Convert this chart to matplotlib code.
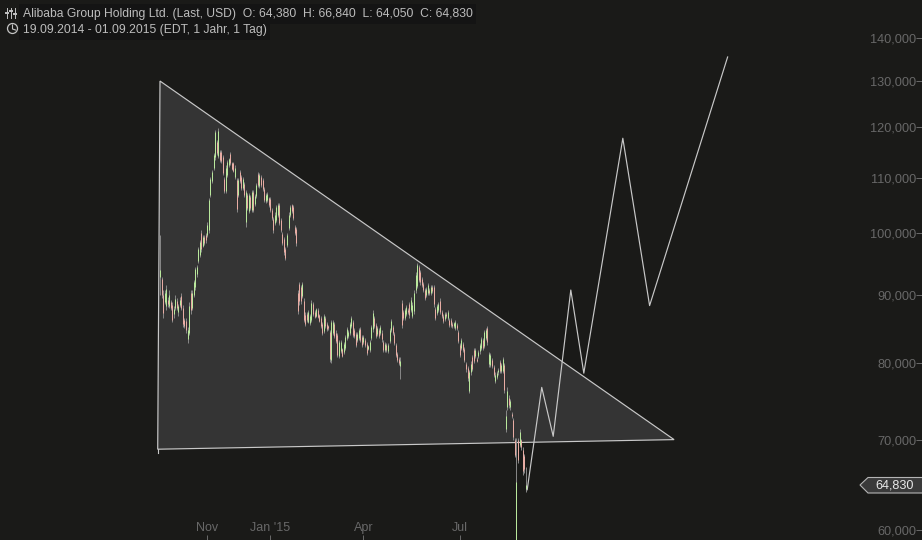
# -*- coding:utf-8 -*-
import numpy as np
from matplotlib import pyplot as plt
from matplotlib.patches import Circle, Polygon
from matplotlib.transforms import Affine2D

# price data in thousand, one entry per trading day
highs = [99.7, 92.8, 90.7, 90.7, 91.5, 89.6, 90.7, 89.1, 88.8, 88.2,
         89.9, 89.4, 88.6, 89.6, 90.2, 88.4, 86.5, 86.4, 85.1, 88.8,
         90.7, 90.7, 92.3, 94.4, 94.7, 97.7, 98.9, 100.6, 99.7, 99.7,
         100.1, 101.9, 106.3, 110.2, 111.5, 114.8, 119.4, 117.4, 119.8, 115.4,
         115.4, 114.4, 110.2, 112.5, 113.5, 113.9, 115.0, 113.1, 113.1, 112.4,
         110.0, 110.0, 111.5, 110.6, 110.2, 109.2, 107.8, 107.2, 107.2, 106.9,
         107.8, 107.8, 107.0, 109.1, 111.1, 110.9, 110.6, 110.0, 108.3, 107.2,
         107.4, 106.5, 106.5, 104.5, 102.9, 103.7, 105.0, 105.4, 105.4, 102.7,
         100.2, 99.4, 97.7, 100.1, 103.7, 105.0, 105.2, 105.0, 101.4, 101.1,
         90.7, 92.0, 91.5, 92.0, 89.4, 87.3, 87.3, 87.6, 87.1, 89.1,
         88.8, 87.6, 88.0, 87.9, 87.1, 86.8, 85.8, 87.1, 86.8, 85.9,
         85.4, 84.7, 86.1, 86.1, 85.8, 84.6, 84.2, 83.2, 83.2, 82.1,
         83.0, 83.9, 85.1, 84.7, 85.9, 86.8, 86.1, 85.0, 84.4, 84.4,
         85.0, 85.1, 83.9, 84.0, 83.5, 82.9, 82.5, 83.2, 85.4, 87.6,
         86.8, 85.7, 85.2, 85.0, 85.4, 84.6, 83.2, 82.9, 82.8, 82.8,
         85.0, 86.3, 85.4, 84.4, 82.8, 81.5, 80.8, 80.8, 89.1, 87.6,
         87.9, 88.4, 87.9, 88.8, 89.6, 88.8, 90.7, 93.5, 95.1, 94.7,
         93.9, 92.8, 92.0, 91.0, 91.2, 91.8, 91.0, 91.5, 91.5, 91.5,
         88.1, 88.5, 88.8, 89.4, 87.6, 87.1, 87.4, 87.3, 87.6, 86.5,
         86.4, 85.8, 85.9, 86.1, 85.7, 84.7, 82.8, 83.5, 82.9, 82.2,
         80.1, 79.6, 79.0, 80.2, 81.1, 82.1, 82.1, 80.8, 81.8, 82.8,
         83.6, 83.5, 84.7, 85.0, 85.3, 81.5, 81.4, 80.7, 79.7, 78.7,
         78.9, 79.3, 80.4, 80.0, 80.8, 80.0, 73.8, 76.7, 75.7, 75.2,
         73.5, 72.8, 70.3, 70.3, 70.3, 71.4, 70.2, 69.2, 68.4, 66.84]
lows = [89.9, 89.4, 86.5, 88.6, 87.6, 88.1, 87.9, 87.6, 85.8, 86.5,
        87.6, 87.6, 86.8, 88.1, 87.6, 85.1, 85.0, 84.2, 82.8, 83.9,
        87.1, 87.6, 89.6, 90.7, 92.8, 95.0, 96.0, 96.9, 97.7, 98.0,
        98.4, 99.4, 100.1, 106.5, 109.1, 111.5, 113.5, 114.4, 113.9, 113.1,
        112.9, 110.6, 107.2, 107.2, 110.2, 112.1, 112.5, 111.5, 111.1, 109.8,
        103.7, 106.5, 109.1, 107.8, 107.8, 106.4, 101.1, 104.1, 103.6, 104.1,
        103.7, 103.7, 104.8, 106.3, 108.3, 108.1, 108.3, 107.6, 105.6, 105.4,
        105.6, 104.7, 103.7, 102.3, 100.1, 101.4, 101.9, 102.9, 101.4, 100.2,
        98.0, 96.3, 95.5, 97.7, 100.6, 102.9, 103.6, 102.3, 99.7, 97.9,
        87.1, 88.4, 88.6, 89.4, 85.8, 85.3, 85.8, 85.7, 85.4, 85.8,
        86.8, 86.4, 86.6, 86.4, 85.8, 85.0, 83.9, 84.2, 85.0, 84.5,
        84.7, 80.1, 80.0, 83.9, 83.5, 82.8, 80.8, 80.7, 81.4, 80.8,
        81.2, 81.8, 83.2, 83.5, 84.0, 85.0, 83.6, 83.5, 82.2, 82.9,
        83.2, 82.9, 82.2, 82.6, 82.2, 81.1, 81.8, 81.5, 83.2, 84.4,
        85.0, 83.5, 83.8, 83.5, 83.9, 83.0, 81.5, 81.5, 81.5, 81.4,
        82.8, 84.4, 83.9, 82.5, 80.8, 80.1, 79.7, 77.8, 85.0, 86.1,
        86.1, 86.8, 87.1, 86.5, 87.4, 86.4, 87.1, 90.3, 91.0, 91.9,
        91.5, 91.2, 90.4, 89.1, 89.6, 90.0, 89.9, 89.9, 90.2, 88.1,
        86.1, 86.9, 87.3, 87.1, 86.4, 85.7, 86.0, 86.4, 86.1, 85.1,
        85.1, 85.0, 84.9, 84.7, 84.7, 82.8, 80.8, 81.8, 81.5, 80.1,
        78.8, 77.6, 75.9, 78.4, 78.9, 80.0, 80.7, 80.1, 80.7, 81.3,
        81.8, 81.8, 82.1, 83.2, 82.5, 79.4, 79.4, 79.3, 78.1, 77.3,
        77.8, 78.4, 78.6, 78.6, 78.6, 75.9, 71.0, 73.8, 74.0, 73.8,
        72.8, 70.1, 68.0, 57.2, 67.3, 69.2, 68.9, 66.0, 66.2, 64.05]
opens = [92.7, 92.4, 89.9, 88.9, 88.2, 89.2, 88.3, 88.9, 88.4, 87.0,
         88.0, 89.0, 87.3, 88.4, 89.8, 88.0, 86.2, 86.0, 83.3, 84.3,
         90.3, 88.0, 90.0, 91.2, 93.2, 95.3, 96.4, 100.1, 97.9, 99.3,
         99.8, 99.7, 100.5, 106.9, 109.5, 111.9, 114.0, 117.0, 114.3, 115.0,
         115.1, 114.0, 109.8, 107.6, 110.5, 112.5, 114.7, 112.8, 112.8, 110.2,
         109.6, 106.9, 111.1, 110.2, 108.2, 108.8, 102.0, 106.8, 104.0, 106.5,
         104.1, 107.4, 105.2, 106.7, 110.7, 108.5, 110.2, 109.6, 107.9, 105.8,
         105.9, 106.2, 106.1, 104.1, 102.5, 101.8, 102.3, 103.3, 105.0, 102.3,
         99.9, 99.0, 97.3, 98.0, 100.9, 103.2, 105.0, 104.7, 101.1, 100.8,
         90.3, 91.6, 91.1, 89.8, 89.0, 86.9, 87.0, 85.9, 85.7, 86.1,
         88.5, 87.3, 86.8, 87.6, 86.9, 86.5, 85.5, 84.5, 86.5, 85.6,
         85.2, 84.4, 80.4, 84.2, 85.5, 84.3, 83.9, 81.0, 81.7, 81.9,
         81.5, 82.1, 83.5, 83.8, 84.3, 85.3, 85.8, 84.7, 84.1, 83.2,
         83.5, 84.8, 83.6, 82.9, 83.2, 82.6, 82.0, 81.8, 83.5, 84.8,
         86.5, 85.4, 84.1, 84.7, 84.2, 84.3, 82.9, 81.8, 82.5, 81.7,
         83.1, 84.7, 85.1, 84.1, 82.5, 81.2, 80.5, 79.6, 88.7, 87.3,
         86.4, 87.1, 87.7, 88.5, 87.7, 86.8, 87.5, 90.7, 91.4, 94.3,
         93.5, 92.5, 91.7, 90.7, 89.9, 90.3, 90.7, 90.2, 91.2, 91.2,
         87.8, 87.2, 87.6, 89.0, 87.3, 86.8, 86.3, 87.0, 86.4, 86.2,
         86.1, 85.5, 85.2, 85.0, 85.4, 84.4, 82.5, 82.1, 82.6, 81.9,
         79.8, 79.3, 76.2, 78.7, 80.8, 81.8, 81.0, 80.6, 81.0, 81.6,
         82.1, 83.2, 82.4, 83.5, 85.0, 79.8, 79.7, 80.4, 79.4, 77.6,
         78.1, 78.7, 80.1, 78.9, 78.9, 79.7, 71.4, 74.2, 75.3, 74.1,
         73.3, 72.5, 70.0, 57.5, 70.0, 69.5, 70.0, 68.9, 68.1, 64.38]
closes = [93.9, 90.0, 87.2, 90.2, 90.9, 88.5, 89.9, 88.0, 86.2, 87.8,
          89.3, 88.0, 88.2, 89.2, 88.0, 85.6, 85.3, 84.6, 84.6, 88.3,
          87.6, 90.2, 91.9, 94.0, 94.4, 97.3, 98.5, 97.4, 99.3, 98.3,
          98.8, 101.5, 105.9, 109.8, 111.1, 114.4, 119.0, 114.8, 119.3, 113.4,
          113.2, 111.0, 107.6, 112.0, 113.1, 113.6, 112.8, 111.8, 111.4, 112.0,
          104.2, 109.6, 109.5, 108.2, 109.8, 106.8, 107.4, 104.5, 106.8, 104.5,
          107.4, 104.1, 106.6, 108.7, 108.7, 110.5, 108.7, 108.0, 106.0, 106.8,
          107.0, 105.0, 104.1, 102.7, 100.5, 103.3, 104.6, 105.0, 101.8, 100.6,
          98.3, 96.8, 95.8, 99.7, 103.3, 104.7, 103.9, 102.7, 100.0, 98.3,
          87.5, 89.0, 89.0, 91.6, 86.2, 85.6, 86.1, 87.3, 86.8, 88.7,
          87.0, 86.6, 87.8, 86.6, 86.0, 85.2, 84.2, 86.8, 85.2, 84.8,
          84.9, 80.5, 85.8, 85.8, 83.8, 83.1, 81.1, 82.9, 82.9, 81.0,
          82.7, 83.6, 84.8, 84.4, 85.6, 86.5, 83.9, 83.8, 82.5, 84.1,
          84.7, 83.2, 82.5, 83.7, 82.5, 81.4, 82.3, 82.9, 85.1, 87.2,
          85.3, 83.8, 84.9, 83.8, 85.1, 83.3, 81.8, 82.6, 81.8, 82.5,
          84.7, 86.0, 84.2, 82.8, 81.1, 80.4, 80.0, 80.2, 85.4, 86.4,
          87.6, 88.1, 87.3, 86.9, 89.2, 88.4, 90.3, 93.1, 94.7, 92.3,
          91.9, 91.5, 90.7, 89.4, 90.9, 91.5, 90.2, 91.2, 90.5, 88.5,
          86.4, 88.2, 88.5, 87.4, 86.7, 86.0, 87.1, 86.7, 87.3, 85.4,
          85.4, 85.2, 85.7, 85.8, 84.9, 83.1, 81.1, 83.2, 81.8, 80.4,
          79.1, 78.0, 78.7, 79.9, 79.2, 80.3, 81.8, 80.3, 81.5, 82.5,
          83.3, 82.1, 84.4, 84.7, 82.9, 81.2, 81.1, 79.6, 78.4, 78.4,
          78.6, 79.0, 78.9, 79.7, 80.5, 76.3, 73.0, 76.2, 74.4, 74.9,
          73.0, 70.4, 68.3, 65.2, 67.7, 71.0, 69.2, 66.4, 66.6, 64.83]

# hand drawn shapes on the chart, (bar number, price in thousand)
triangle_days = [0, 336, -1.5]
triangle_prices = [130.0, 70.1, 68.95]
forecast_days = [240, 249.5, 257, 268.5, 277, 302.5, 320, 371]
forecast_prices = [64.3, 76.7, 70.5, 90.7, 78.6, 117.8, 88.3, 135.5]

y_ticks = [60000, 70000, 80000, 90000, 100000, 110000, 120000, 130000, 140000]
x_tick_days = [31, 72, 133, 196]
x_tick_labels = ['Nov', "Jan '15", 'Apr', 'Jul']

title_line = 'Alibaba Group Holding Ltd. (Last, USD)  O: 64,380  H: 66,840  L: 64,050  C: 64,830'
range_line = '19.09.2014 - 01.09.2015 (EDT, 1 Jahr, 1 Tag)'
last_price = '64,830'

BG = '#1a1a18'
FILL = '#343434'
LINE = '#c8c8c8'
WICK = '#858585'
UP = '#b9e89c'
DOWN = '#e8aca4'
AXIS_TEXT = '#686868'
PX = 0.72  # one pixel in points at dpi 100


def px(x, y):
    """ image pixel (origin top left) to display coordinates """
    return x, 540 - y


def plot_bars(ax):
    days = np.arange(len(highs))
    hi = np.array(highs) * 1000
    lo = np.array(lows) * 1000
    op = np.array(opens) * 1000
    cl = np.array(closes) * 1000

    ax.vlines(days, lo, hi, color=WICK, lw=PX, zorder=3)
    rising = cl >= op
    ax.vlines(days[rising], op[rising], cl[rising], color=UP, lw=PX, zorder=4)
    ax.vlines(days[~rising], cl[~rising], op[~rising], color=DOWN, lw=PX, zorder=4)


def plot_shapes(ax):
    corners = np.column_stack([triangle_days, np.array(triangle_prices) * 1000])
    ax.add_patch(Polygon(corners, closed=True, facecolor=FILL, edgecolor=LINE,
                         lw=0.85, zorder=2))
    ax.plot(forecast_days, np.array(forecast_prices) * 1000, color=LINE, lw=0.85, zorder=5)
    # little tail under the lower left corner
    ax.plot([-1.5, -1.5], [68950, 68500], color=LINE, lw=0.8, zorder=5)


def plot_header(fig):
    identity = Affine2D()
    fig.text(*px(23, 14), title_line, transform=identity, color='#bcbcbc', fontsize=8.7,
             va='center', ha='left', bbox=dict(facecolor='#141414', edgecolor='none', pad=2.5))
    fig.text(*px(23, 30), range_line, transform=identity, color='#bcbcbc', fontsize=8.7,
             va='center', ha='left', bbox=dict(facecolor='#141414', edgecolor='none', pad=2.5))

    # equalizer icon
    for x, y1, y2, knob in [(7, 8, 18, 13), (11, 8, 18, 11), (15, 8, 18, 14)]:
        fig.add_artist(plt.Line2D(*zip(px(x, y1), px(x, y2)), transform=identity,
                                  color='#c4c4c4', lw=0.7))
        fig.add_artist(plt.Line2D(*zip(px(x - 1, knob), px(x + 1, knob)), transform=identity,
                                  color='#c4c4c4', lw=1.4))
    # clock icon
    fig.add_artist(Circle(px(12.5, 28.5), 5, transform=identity, fill=False,
                          edgecolor='#c4c4c4', lw=0.9))
    fig.add_artist(plt.Line2D(*zip(px(12.5, 25), px(12.5, 29), px(15.5, 30)), transform=identity,
                              color='#c4c4c4', lw=0.8))


def plot_price_tag(fig):
    identity = Affine2D()
    outline = [px(922, 477.5), px(868, 477.5), px(860, 485), px(868, 493), px(922, 493)]
    fig.add_artist(Polygon(outline, closed=False, facecolor='#3a3a3a', edgecolor='#b5b5b5',
                           lw=0.8, transform=identity))
    fig.text(*px(894.5, 486), last_price, transform=identity, color='#e8e8e8', fontsize=9.1,
             va='center', ha='center')


def main():
    plt.rcParams['font.family'] = ['Liberation Sans', 'DejaVu Sans']

    fig = plt.figure(figsize=(9.22, 5.4), dpi=100, facecolor=BG)
    ax = fig.add_axes([0, 0, 1, 1], facecolor=BG)

    plot_shapes(ax)
    plot_bars(ax)

    # 1.53 px per bar, log price scale with 580.6 px per e-fold
    ax.set_xlim(-160 / 1.53, (922 - 160) / 1.53)
    ax.set_yscale('log')
    ax.set_ylim(140000 * np.exp(-(540 - 38) / 580.6), 140000 * np.exp(38 / 580.6))

    ax.yaxis.tick_right()
    ax.set_yticks(y_ticks)
    ax.set_yticklabels(['{:,}'.format(v) for v in y_ticks])
    ax.minorticks_off()
    ax.tick_params(axis='y', direction='in', length=4, width=PX, color=AXIS_TEXT,
                   labelcolor=AXIS_TEXT, labelsize=9.2, pad=-4)
    for label in ax.get_yticklabels():
        label.set_ha('right')

    ax.set_xticks(x_tick_days)
    ax.set_xticklabels(x_tick_labels)
    ax.tick_params(axis='x', direction='in', length=3.5, width=PX, color=AXIS_TEXT,
                   labelcolor=AXIS_TEXT, labelsize=9, pad=-4.5)
    for label in ax.get_xticklabels():
        label.set_va('bottom')

    for spine in ax.spines.values():
        spine.set_visible(False)

    plot_header(fig)
    plot_price_tag(fig)

    fig.savefig('out.png', dpi=100, facecolor=BG)


if __name__ == '__main__':
    main()
